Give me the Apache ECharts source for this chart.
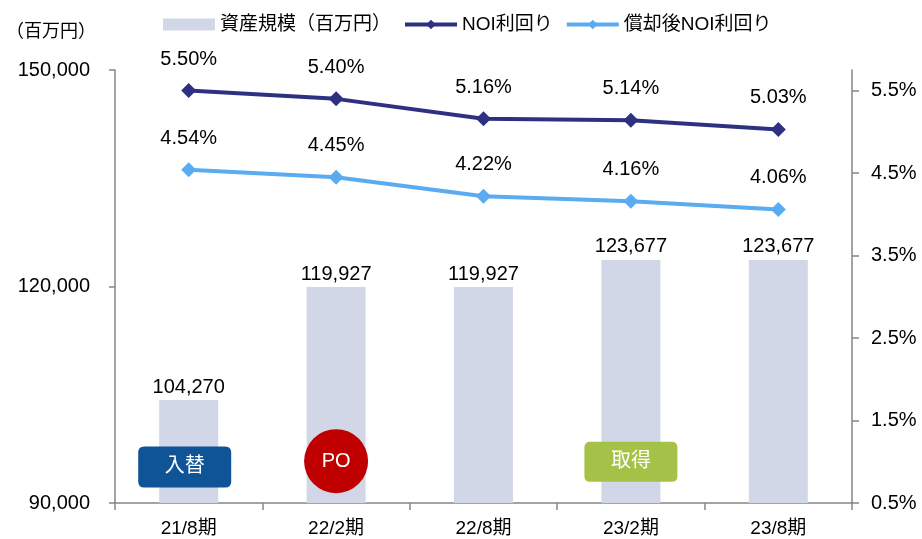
<!DOCTYPE html>
<html>
<head>
<meta charset="utf-8">
<script src="https://cdn.jsdelivr.net/npm/echarts@6/dist/echarts.min.js"></script>
<style>
  html, body { margin: 0; padding: 0; background: #fff; }
  #main { width: 922px; height: 539px; }
</style>
</head>
<body>
<div id="main"></div>
<script>
const periods = ['21/8期', '22/2期', '22/8期', '23/2期', '23/8期']
const assetSize = [104270, 119927, 119927, 123677, 123677]
const noiYield = [5.50, 5.40, 5.16, 5.14, 5.03]
const noiAfterDep = [4.54, 4.45, 4.22, 4.16, 4.06]
const leftTicks = [90000, 120000, 150000]
const rightTicks = [0.5, 1.5, 2.5, 3.5, 4.5, 5.5]
// 注記（期、資産規模軸上の高さ）
const boxPath = 'path://M6,0H87Q93,0 93,6V35Q93,41 87,41H6Q0,41 0,35V6Q0,0 6,0Z'
const notes = [
  { name: '入替', period: '21/8期', at: 95000, color: '#0f5496', shape: boxPath, size: [93, 41], offset: [-4, 0] },
  { name: 'PO', period: '22/2期', at: 95800, color: '#c00000', shape: 'circle', size: 64, offset: [0, 0] },
  { name: '取得', period: '23/2期', at: 95700, color: '#a5c248', shape: boxPath, size: [93, 40], offset: [0, 0] }
]

const font = '"Liberation Sans", Arial, "Noto Sans CJK JP", sans-serif'
const axisGray = '#868686'
const navy = '#2e3182'
const sky = '#5aabf0'

const chart = echarts.init(document.getElementById('main'))
const option = {
  animation: false,
  textStyle: { fontFamily: font, color: '#000' },
  grid: { left: 115, right: 70, top: 70, bottom: 36 },
  legend: {
    top: 10,
    left: 158,
    itemGap: 12,
    itemWidth: 52,
    itemHeight: 12,
    textStyle: { fontSize: 19, fontFamily: font, color: '#000' },
    data: [
      { name: '資産規模（百万円）', icon: 'rect' },
      { name: 'NOI利回り', lineStyle: { width: 4, color: navy } },
      { name: '償却後NOI利回り', lineStyle: { width: 4, color: sky } }
    ]
  },
  graphic: [{
    type: 'text',
    left: 6,
    top: 23,
    style: { text: '（百万円）', fontSize: 18, fontFamily: font, fill: '#000' }
  }],
  xAxis: {
    type: 'category',
    data: periods,
    axisLine: { lineStyle: { color: axisGray, width: 1.5 } },
    axisTick: { show: true, length: 7, lineStyle: { color: axisGray, width: 1.5 } },
    axisLabel: { fontSize: 19, color: '#000', margin: 16 }
  },
  yAxis: [{
    type: 'value',
    min: leftTicks[0],
    max: leftTicks[leftTicks.length - 1],
    interval: 30000,
    splitLine: { show: false },
    axisLine: { show: true, lineStyle: { color: axisGray, width: 1.5 } },
    axisTick: { show: true, length: 6, lineStyle: { color: axisGray, width: 1.5 } },
    axisLabel: {
      fontSize: 20, color: '#000', margin: 25,
      formatter: v => v.toLocaleString('en-US')
    }
  }, {
    type: 'value',
    min: rightTicks[0],
    max: 5.75,
    interval: 1,
    splitLine: { show: false },
    axisLine: { show: true, lineStyle: { color: axisGray, width: 1.5 } },
    axisTick: { show: true, length: 7, lineStyle: { color: axisGray, width: 1.5 } },
    axisLabel: {
      fontSize: 20, color: '#000', margin: 19, showMaxLabel: false,
      formatter: v => rightTicks.includes(v) ? v.toFixed(1) + '%' : ''
    }
  }],
  series: [{
    name: '資産規模（百万円）',
    type: 'bar',
    data: assetSize,
    barWidth: 59,
    itemStyle: { color: '#d1d7e7' },
    label: {
      show: true, position: 'top', distance: 3, fontSize: 20, color: '#000',
      formatter: p => p.value.toLocaleString('en-US')
    },
    markPoint: {
      silent: true,
      data: notes.map(n => ({
        name: n.name,
        coord: [n.period, n.at],
        symbol: n.shape,
        symbolSize: n.size,
        symbolOffset: n.offset,
        itemStyle: { color: n.color },
        label: { show: true, formatter: n.name, color: '#fff', fontSize: 20, fontFamily: font }
      }))
    }
  }, {
    name: 'NOI利回り',
    type: 'line',
    yAxisIndex: 1,
    data: noiYield,
    symbol: 'diamond',
    symbolSize: 15,
    lineStyle: { color: navy, width: 4 },
    itemStyle: { color: navy },
    label: {
      show: true, position: 'top', distance: 14, fontSize: 20, color: '#000',
      formatter: p => p.value.toFixed(2) + '%'
    }
  }, {
    name: '償却後NOI利回り',
    type: 'line',
    yAxisIndex: 1,
    data: noiAfterDep,
    symbol: 'diamond',
    symbolSize: 15,
    lineStyle: { color: sky, width: 4 },
    itemStyle: { color: sky },
    label: {
      show: true, position: 'top', distance: 14, fontSize: 20, color: '#000',
      formatter: p => p.value.toFixed(2) + '%'
    }
  }]
}
chart.setOption(option)
</script>
</body>
</html>
